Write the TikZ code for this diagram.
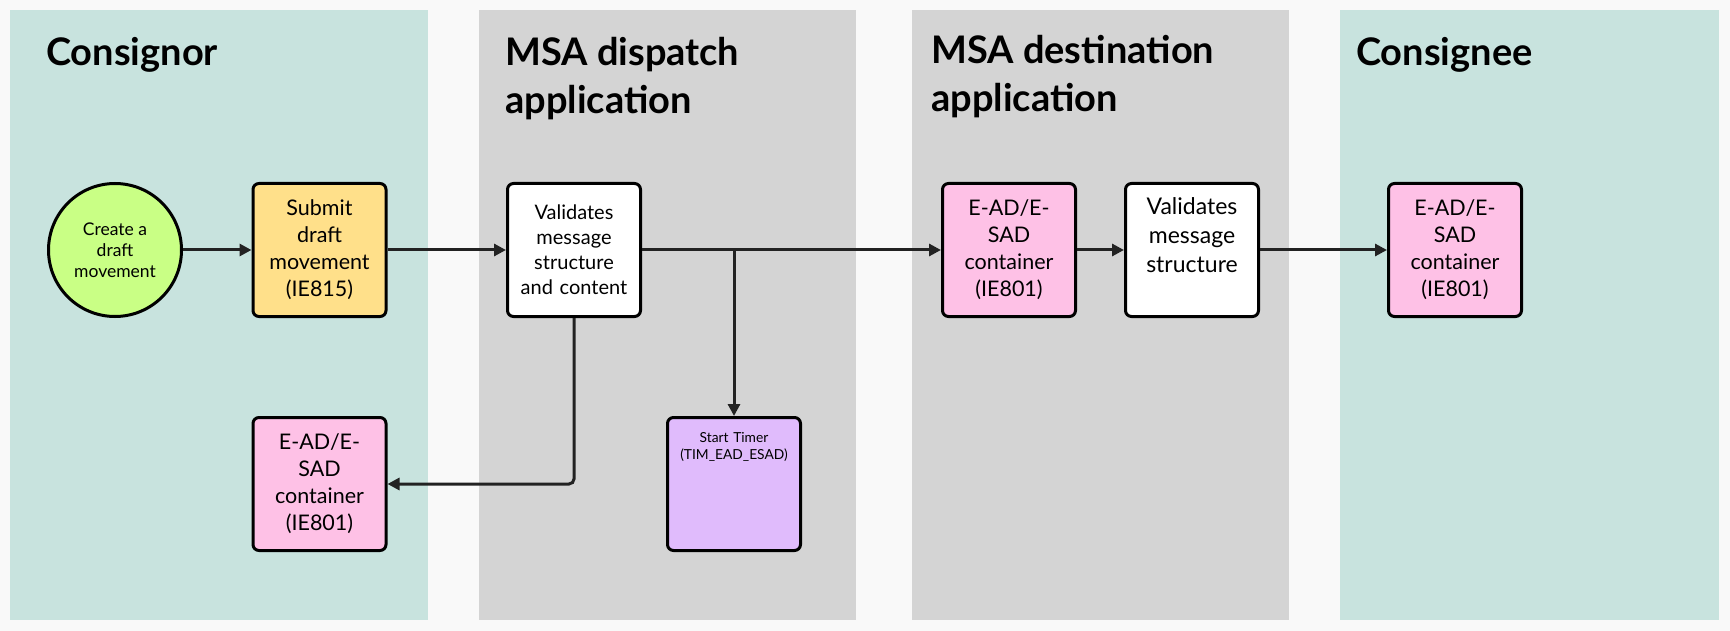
\documentclass[tikz,border=0pt]{standalone}
\usepackage{fontspec}
\setmainfont{Lato}
\usetikzlibrary{arrows.meta}
\definecolor{pagegray}{RGB}{249,249,249}
\definecolor{lanegreen}{RGB}{200,227,222}
\definecolor{lanegray}{RGB}{212,212,212}
\definecolor{limegreen}{RGB}{201,255,133}
\definecolor{softyellow}{RGB}{255,224,138}
\definecolor{softpink}{RGB}{254,193,230}
\definecolor{softpurple}{RGB}{224,187,252}
\definecolor{inkblack}{RGB}{34,34,34}

\begin{document}
\begin{tikzpicture}[
    x=1pt, y=-1pt,
    title/.style={anchor=north west, inner sep=0pt, align=left, font=\fontsize{38}{48}\selectfont\bfseries},
    block/.style={rectangle, rounded corners=6pt, draw=black, line width=3pt, minimum width=133pt, minimum height=133pt, inner sep=2pt, align=center, text width=128pt, font=\fontsize{21.5}{27}\selectfont},
    start/.style={circle, draw=black, line width=3pt, minimum size=133pt, inner sep=0pt, align=center, fill=limegreen, font=\fontsize{17.5}{21}\selectfont},
    arrow/.style={-{Triangle[length=12pt, width=12pt]}, line width=3pt, draw=inkblack}
]
    \useasboundingbox[fill=pagegray] (0,0) rectangle (1730,631);

    % Lanes
    \fill[lanegreen] (10,10) rectangle (428,620);
    \fill[lanegray] (479,10) rectangle (856,620);
    \fill[lanegray] (912,10) rectangle (1289,620);
    \fill[lanegreen] (1340,10) rectangle (1719,620);

    \node[title] (t_consignor) at (46,37) {Consignor};
    \node[title] (t_dispatch) at (505,37) {MSA dispatch\\application};
    \node[title] (t_dest) at (931,35) {MSA destination\\application};
    \node[title] (t_consignee) at (1356,37) {Consignee};

    % Consignor
    \node[start] (create) at (115,250) {Create a\\draft\\movement};
    \node[block, fill=softyellow] (submit) at (319.5,250) {Submit\\draft\\movement\\(IE815)};
    \node[block, fill=softpink] (ead_back) at (319.5,484) {E-AD/E-\\SAD\\container\\(IE801)};

    % MSA dispatch application
    \node[block, fill=white, font=\fontsize{20}{25}\selectfont] (val_disp) at (574,250) {Validates\\message\\structure\\and content};
    \node[block, fill=softpurple, font=\fontsize{13.8}{17}\selectfont] (timer) at (734,484) {Start Timer\\(TIM\_EAD\_ESAD)\\[59pt]\mbox{}};
    \coordinate (split) at (val_disp.east -| timer.north);

    % MSA destination application
    \node[block, fill=softpink] (ead_dest) at (1009,250) {E-AD/E-\\SAD\\container\\(IE801)};
    \node[block, fill=white, font=\fontsize{23}{29}\selectfont] (val_dest) at (1192,250) {Validates\\message\\structure\\\mbox{}};

    % Consignee
    \node[block, fill=softpink] (ead_cons) at (1455,250) {E-AD/E-\\SAD\\container\\(IE801)};

    % Flow
    \draw[arrow] (create) -- (submit);
    \draw[arrow] (submit) -- (val_disp);
    \draw[arrow] (val_disp) -- (ead_dest);
    \draw[arrow] (split) -- (timer.north);
    \draw[arrow, rounded corners=5pt] (val_disp.south) |- (ead_back.east);
    \draw[arrow] (ead_dest) -- (val_dest);
    \draw[arrow] (val_dest) -- (ead_cons);
\end{tikzpicture}
\end{document}
